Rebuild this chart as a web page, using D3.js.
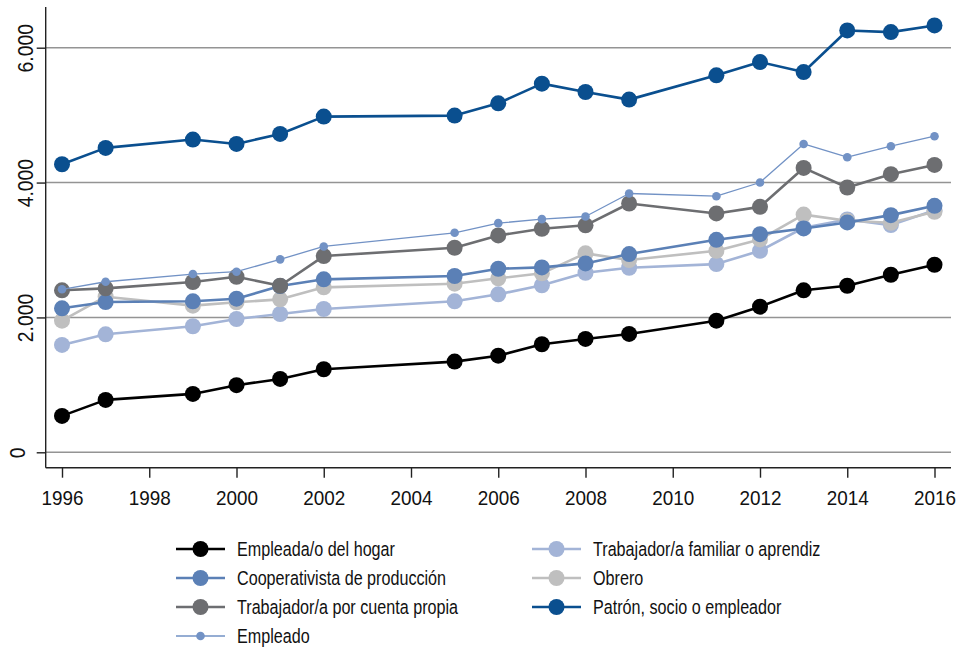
<!DOCTYPE html>
<html><head><meta charset="utf-8">
<script src="https://cdn.jsdelivr.net/npm/d3@7"></script>
<style>
body{margin:0;background:#fff;}
svg text{font-family:"Liberation Sans",Arial,Helvetica,sans-serif;fill:#111;}
</style></head>
<body><svg id="c" width="965" height="648"></svg>
<script>
const years = [1996,1997,1999,2000,2001,2002,2005,2006,2007,2008,2009,2011,2012,2013,2014,2015,2016];
const hogar      = [540,777,866,995,1088,1232,1345,1433,1602,1681,1755,1952,2159,2402,2470,2633,2781];
const familiar   = [1592,1750,1869,1977,2051,2125,2239,2343,2476,2663,2737,2791,2988,3330,3453,3369,3591];
const obrero     = [1952,2307,2175,2224,2268,2446,2500,2580,2654,2950,2851,2988,3157,3525,3433,3403,3566];
const cooperat   = [2135,2228,2239,2278,2465,2565,2614,2722,2742,2801,2940,3151,3235,3320,3409,3517,3655];
const cuentaProp = [2402,2431,2525,2603,2470,2910,3033,3216,3314,3366,3690,3542,3640,4217,3927,4124,4262];
const patron     = [4272,4514,4638,4573,4721,4978,4993,5175,5467,5343,5230,5590,5787,5639,6256,6231,6330];
const empleado   = [2417,2529,2643,2678,2861,3053,3255,3398,3458,3497,3838,3798,4001,4573,4376,4539,4687];
const xTicks = [1996,1998,2000,2002,2004,2006,2008,2010,2012,2014,2016];
const yTicks = [0,2000,4000,6000];

const series = [
  {name:"Empleada/o del hogar", values:hogar, color:"#000000", w:2.6, r:8},
  {name:"Trabajador/a familiar o aprendiz", values:familiar, color:"#a3b4d7", w:2.6, r:8},
  {name:"Obrero", values:obrero, color:"#bfbfbf", w:2.6, r:8},
  {name:"Cooperativista de producción", values:cooperat, color:"#5b80b6", w:2.6, r:8},
  {name:"Trabajador/a por cuenta propia", values:cuentaProp, color:"#6d6e71", w:2.6, r:8},
  {name:"Patrón, socio o empleador", values:patron, color:"#0a4f8f", w:2.6, r:8},
  {name:"Empleado", values:empleado, color:"#7292c5", w:1.3, r:4.3}
];
const legendOrder = [
  ["Empleada/o del hogar",0,0],["Cooperativista de producción",0,1],["Trabajador/a por cuenta propia",0,2],["Empleado",0,3],
  ["Trabajador/a familiar o aprendiz",1,0],["Obrero",1,1],["Patrón, socio o empleador",1,2]
];

const svg = d3.select("#c");
const x = d3.scaleLinear().domain([1996,2016]).range([62,934.5]);
const y = d3.scaleLinear().domain([0,6000]).range([452.3,47.7]);
const pLeft = 45.7, pRight = 951, pBottom = 467.7, pTop = 7;

// gridlines
svg.append("g").selectAll("line").data(yTicks).join("line")
  .attr("x1",pLeft).attr("x2",pRight).attr("y1",d=>y(d)).attr("y2",d=>y(d))
  .attr("stroke","#949494").attr("stroke-width",1.4);

// y axis
const fmt = d => d3.format(",")(d).replace(/,/g,".");
const yAxis = svg.append("g").attr("transform",`translate(${pLeft},0)`)
  .call(d3.axisLeft(y).tickValues(yTicks).tickSize(9).tickFormat(fmt));
yAxis.select(".domain").remove();
yAxis.append("line").attr("x1",0).attr("x2",0).attr("y1",pTop).attr("y2",pBottom).attr("stroke","#222").attr("stroke-width",1.4);
yAxis.selectAll(".tick line").attr("stroke","#222").attr("stroke-width",1.4);
yAxis.selectAll(".tick text")
  .attr("x",0).attr("y",0).attr("dy",null)
  .attr("text-anchor","middle")
  .attr("transform",d=>`translate(${d===0?-21:-13},0) rotate(-90) scale(0.9,1)`)
  .style("font-size","21.5px");

// x axis
const xAxis = svg.append("g").attr("transform",`translate(0,${pBottom})`)
  .call(d3.axisBottom(x).tickValues(xTicks).tickSize(10).tickFormat(d3.format("d")));
xAxis.select(".domain").remove();
xAxis.append("line").attr("x1",pLeft).attr("x2",pRight).attr("y1",0).attr("y2",0).attr("stroke","#222").attr("stroke-width",1.4);
xAxis.selectAll(".tick line").attr("stroke","#222").attr("stroke-width",1.4);
xAxis.selectAll(".tick text").attr("y",0).attr("dy",null)
  .attr("transform","translate(0,505) scale(0.9,1)".replace("505","37.3"))
  .style("font-size","21px");

// series
const line = d3.line().x((d,i)=>x(years[i])).y(d=>y(d));
series.forEach(s=>{
  const g = svg.append("g");
  g.append("path").datum(s.values).attr("d",line).attr("fill","none")
    .attr("stroke",s.color).attr("stroke-width",s.w).attr("stroke-linejoin","round");
  g.selectAll("circle").data(s.values).join("circle")
    .attr("cx",(d,i)=>x(years[i])).attr("cy",d=>y(d)).attr("r",s.r).attr("fill",s.color);
});

// legend
const colX = [176,532], rowY0 = 549, rowH = 29;
legendOrder.forEach(([name,c,r])=>{
  const s = series.find(q=>q.name===name);
  const gx = colX[c], gy = rowY0 + r*rowH;
  const g = svg.append("g").attr("transform",`translate(${gx},${gy})`);
  g.append("line").attr("x1",0).attr("x2",49).attr("y1",0).attr("y2",0).attr("stroke",s.color).attr("stroke-width",s.w);
  g.append("circle").attr("cx",24.5).attr("cy",0).attr("r",s.r).attr("fill",s.color);
  g.append("text").attr("transform","translate(61,7) scale(0.82,1)").style("font-size","19.7px").text(name);
});
</script></body></html>
